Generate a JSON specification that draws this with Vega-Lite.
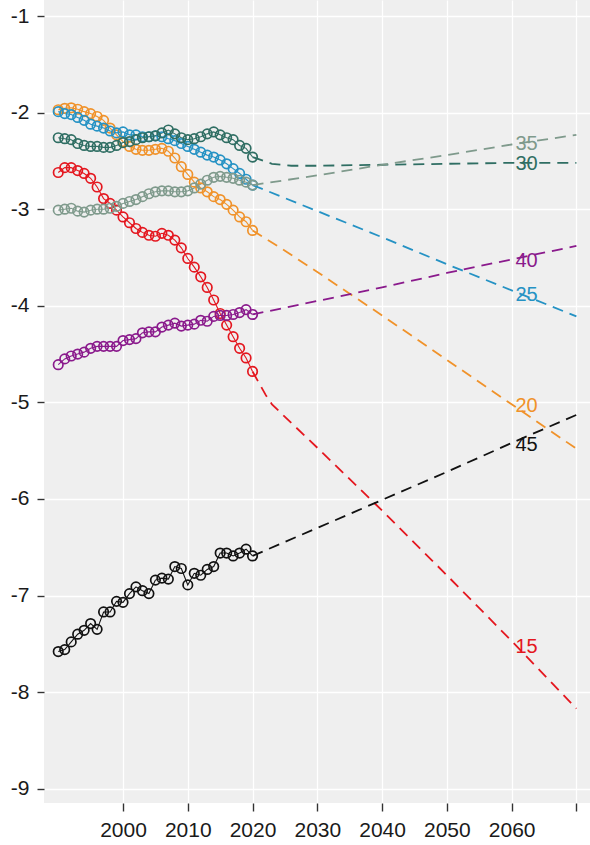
{
  "$schema": "https://vega.github.io/schema/vega-lite/v6.json",
  "width": 546,
  "height": 803,
  "autosize": {"type": "none"},
  "padding": {"left": 44, "top": 0, "right": 0, "bottom": 42},
  "background": "white",
  "config": {
    "view": {"fill": "#efefef", "stroke": null},
    "font": "Liberation Sans",
    "axis": {
      "domain": false,
      "grid": true,
      "gridColor": "#ffffff",
      "gridWidth": 1.3,
      "tickColor": "#333333",
      "tickWidth": 1.4,
      "labelColor": "#1a1a1a",
      "labelFont": "Liberation Sans",
      "title": null
    }
  },
  "datasets": {
    "observed": [
      {"series": "15", "year": 1990, "value": -2.62}, {"series": "15", "year": 1991, "value": -2.57}, {"series": "15", "year": 1992, "value": -2.57}, {"series": "15", "year": 1993, "value": -2.60}, {"series": "15", "year": 1994, "value": -2.63}, {"series": "15", "year": 1995, "value": -2.68}, {"series": "15", "year": 1996, "value": -2.77}, {"series": "15", "year": 1997, "value": -2.89}, {"series": "15", "year": 1998, "value": -2.94}, {"series": "15", "year": 1999, "value": -3.01}, {"series": "15", "year": 2000, "value": -3.08}, {"series": "15", "year": 2001, "value": -3.14}, {"series": "15", "year": 2002, "value": -3.20}, {"series": "15", "year": 2003, "value": -3.24}, {"series": "15", "year": 2004, "value": -3.27}, {"series": "15", "year": 2005, "value": -3.28}, {"series": "15", "year": 2006, "value": -3.25}, {"series": "15", "year": 2007, "value": -3.27}, {"series": "15", "year": 2008, "value": -3.32}, {"series": "15", "year": 2009, "value": -3.40}, {"series": "15", "year": 2010, "value": -3.51}, {"series": "15", "year": 2011, "value": -3.60}, {"series": "15", "year": 2012, "value": -3.70}, {"series": "15", "year": 2013, "value": -3.81}, {"series": "15", "year": 2014, "value": -3.94}, {"series": "15", "year": 2015, "value": -4.08}, {"series": "15", "year": 2016, "value": -4.20}, {"series": "15", "year": 2017, "value": -4.32}, {"series": "15", "year": 2018, "value": -4.44}, {"series": "15", "year": 2019, "value": -4.54}, {"series": "15", "year": 2020, "value": -4.68},

      {"series": "20", "year": 1990, "value": -1.97}, {"series": "20", "year": 1991, "value": -1.955}, {"series": "20", "year": 1992, "value": -1.95}, {"series": "20", "year": 1993, "value": -1.965}, {"series": "20", "year": 1994, "value": -1.99}, {"series": "20", "year": 1995, "value": -2.01}, {"series": "20", "year": 1996, "value": -2.04}, {"series": "20", "year": 1997, "value": -2.08}, {"series": "20", "year": 1998, "value": -2.16}, {"series": "20", "year": 1999, "value": -2.23}, {"series": "20", "year": 2000, "value": -2.30}, {"series": "20", "year": 2001, "value": -2.35}, {"series": "20", "year": 2002, "value": -2.38}, {"series": "20", "year": 2003, "value": -2.39}, {"series": "20", "year": 2004, "value": -2.39}, {"series": "20", "year": 2005, "value": -2.38}, {"series": "20", "year": 2006, "value": -2.37}, {"series": "20", "year": 2007, "value": -2.40}, {"series": "20", "year": 2008, "value": -2.47}, {"series": "20", "year": 2009, "value": -2.56}, {"series": "20", "year": 2010, "value": -2.64}, {"series": "20", "year": 2011, "value": -2.72}, {"series": "20", "year": 2012, "value": -2.78}, {"series": "20", "year": 2013, "value": -2.82}, {"series": "20", "year": 2014, "value": -2.87}, {"series": "20", "year": 2015, "value": -2.90}, {"series": "20", "year": 2016, "value": -2.95}, {"series": "20", "year": 2017, "value": -3.01}, {"series": "20", "year": 2018, "value": -3.08}, {"series": "20", "year": 2019, "value": -3.13}, {"series": "20", "year": 2020, "value": -3.22},

      {"series": "25", "year": 1990, "value": -1.99}, {"series": "25", "year": 1991, "value": -2.01}, {"series": "25", "year": 1992, "value": -2.02}, {"series": "25", "year": 1993, "value": -2.05}, {"series": "25", "year": 1994, "value": -2.08}, {"series": "25", "year": 1995, "value": -2.12}, {"series": "25", "year": 1996, "value": -2.14}, {"series": "25", "year": 1997, "value": -2.16}, {"series": "25", "year": 1998, "value": -2.19}, {"series": "25", "year": 1999, "value": -2.21}, {"series": "25", "year": 2000, "value": -2.20}, {"series": "25", "year": 2001, "value": -2.23}, {"series": "25", "year": 2002, "value": -2.23}, {"series": "25", "year": 2003, "value": -2.25}, {"series": "25", "year": 2004, "value": -2.25}, {"series": "25", "year": 2005, "value": -2.24}, {"series": "25", "year": 2006, "value": -2.25}, {"series": "25", "year": 2007, "value": -2.27}, {"series": "25", "year": 2008, "value": -2.29}, {"series": "25", "year": 2009, "value": -2.32}, {"series": "25", "year": 2010, "value": -2.35}, {"series": "25", "year": 2011, "value": -2.38}, {"series": "25", "year": 2012, "value": -2.41}, {"series": "25", "year": 2013, "value": -2.44}, {"series": "25", "year": 2014, "value": -2.46}, {"series": "25", "year": 2015, "value": -2.49}, {"series": "25", "year": 2016, "value": -2.53}, {"series": "25", "year": 2017, "value": -2.58}, {"series": "25", "year": 2018, "value": -2.63}, {"series": "25", "year": 2019, "value": -2.69}, {"series": "25", "year": 2020, "value": -2.75},

      {"series": "30", "year": 1990, "value": -2.26}, {"series": "30", "year": 1991, "value": -2.27}, {"series": "30", "year": 1992, "value": -2.28}, {"series": "30", "year": 1993, "value": -2.32}, {"series": "30", "year": 1994, "value": -2.34}, {"series": "30", "year": 1995, "value": -2.35}, {"series": "30", "year": 1996, "value": -2.35}, {"series": "30", "year": 1997, "value": -2.36}, {"series": "30", "year": 1998, "value": -2.36}, {"series": "30", "year": 1999, "value": -2.34}, {"series": "30", "year": 2000, "value": -2.31}, {"series": "30", "year": 2001, "value": -2.30}, {"series": "30", "year": 2002, "value": -2.28}, {"series": "30", "year": 2003, "value": -2.26}, {"series": "30", "year": 2004, "value": -2.25}, {"series": "30", "year": 2005, "value": -2.24}, {"series": "30", "year": 2006, "value": -2.21}, {"series": "30", "year": 2007, "value": -2.18}, {"series": "30", "year": 2008, "value": -2.22}, {"series": "30", "year": 2009, "value": -2.26}, {"series": "30", "year": 2010, "value": -2.28}, {"series": "30", "year": 2011, "value": -2.27}, {"series": "30", "year": 2012, "value": -2.25}, {"series": "30", "year": 2013, "value": -2.22}, {"series": "30", "year": 2014, "value": -2.20}, {"series": "30", "year": 2015, "value": -2.23}, {"series": "30", "year": 2016, "value": -2.26}, {"series": "30", "year": 2017, "value": -2.28}, {"series": "30", "year": 2018, "value": -2.34}, {"series": "30", "year": 2019, "value": -2.37}, {"series": "30", "year": 2020, "value": -2.46},

      {"series": "35", "year": 1990, "value": -3.01}, {"series": "35", "year": 1991, "value": -3.00}, {"series": "35", "year": 1992, "value": -2.99}, {"series": "35", "year": 1993, "value": -3.02}, {"series": "35", "year": 1994, "value": -3.03}, {"series": "35", "year": 1995, "value": -3.01}, {"series": "35", "year": 1996, "value": -3.00}, {"series": "35", "year": 1997, "value": -3.00}, {"series": "35", "year": 1998, "value": -2.99}, {"series": "35", "year": 1999, "value": -2.97}, {"series": "35", "year": 2000, "value": -2.94}, {"series": "35", "year": 2001, "value": -2.92}, {"series": "35", "year": 2002, "value": -2.90}, {"series": "35", "year": 2003, "value": -2.87}, {"series": "35", "year": 2004, "value": -2.84}, {"series": "35", "year": 2005, "value": -2.82}, {"series": "35", "year": 2006, "value": -2.81}, {"series": "35", "year": 2007, "value": -2.81}, {"series": "35", "year": 2008, "value": -2.82}, {"series": "35", "year": 2009, "value": -2.82}, {"series": "35", "year": 2010, "value": -2.81}, {"series": "35", "year": 2011, "value": -2.78}, {"series": "35", "year": 2012, "value": -2.74}, {"series": "35", "year": 2013, "value": -2.70}, {"series": "35", "year": 2014, "value": -2.67}, {"series": "35", "year": 2015, "value": -2.66}, {"series": "35", "year": 2016, "value": -2.67}, {"series": "35", "year": 2017, "value": -2.68}, {"series": "35", "year": 2018, "value": -2.70}, {"series": "35", "year": 2019, "value": -2.72}, {"series": "35", "year": 2020, "value": -2.75},

      {"series": "40", "year": 1990, "value": -4.61}, {"series": "40", "year": 1991, "value": -4.55}, {"series": "40", "year": 1992, "value": -4.52}, {"series": "40", "year": 1993, "value": -4.50}, {"series": "40", "year": 1994, "value": -4.48}, {"series": "40", "year": 1995, "value": -4.44}, {"series": "40", "year": 1996, "value": -4.42}, {"series": "40", "year": 1997, "value": -4.42}, {"series": "40", "year": 1998, "value": -4.42}, {"series": "40", "year": 1999, "value": -4.42}, {"series": "40", "year": 2000, "value": -4.36}, {"series": "40", "year": 2001, "value": -4.35}, {"series": "40", "year": 2002, "value": -4.34}, {"series": "40", "year": 2003, "value": -4.28}, {"series": "40", "year": 2004, "value": -4.27}, {"series": "40", "year": 2005, "value": -4.27}, {"series": "40", "year": 2006, "value": -4.22}, {"series": "40", "year": 2007, "value": -4.20}, {"series": "40", "year": 2008, "value": -4.18}, {"series": "40", "year": 2009, "value": -4.21}, {"series": "40", "year": 2010, "value": -4.20}, {"series": "40", "year": 2011, "value": -4.19}, {"series": "40", "year": 2012, "value": -4.15}, {"series": "40", "year": 2013, "value": -4.16}, {"series": "40", "year": 2014, "value": -4.11}, {"series": "40", "year": 2015, "value": -4.10}, {"series": "40", "year": 2016, "value": -4.10}, {"series": "40", "year": 2017, "value": -4.09}, {"series": "40", "year": 2018, "value": -4.07}, {"series": "40", "year": 2019, "value": -4.04}, {"series": "40", "year": 2020, "value": -4.09},

      {"series": "45", "year": 1990, "value": -7.58}, {"series": "45", "year": 1991, "value": -7.56}, {"series": "45", "year": 1992, "value": -7.48}, {"series": "45", "year": 1993, "value": -7.40}, {"series": "45", "year": 1994, "value": -7.36}, {"series": "45", "year": 1995, "value": -7.29}, {"series": "45", "year": 1996, "value": -7.35}, {"series": "45", "year": 1997, "value": -7.17}, {"series": "45", "year": 1998, "value": -7.17}, {"series": "45", "year": 1999, "value": -7.06}, {"series": "45", "year": 2000, "value": -7.07}, {"series": "45", "year": 2001, "value": -6.98}, {"series": "45", "year": 2002, "value": -6.91}, {"series": "45", "year": 2003, "value": -6.95}, {"series": "45", "year": 2004, "value": -6.98}, {"series": "45", "year": 2005, "value": -6.84}, {"series": "45", "year": 2006, "value": -6.82}, {"series": "45", "year": 2007, "value": -6.83}, {"series": "45", "year": 2008, "value": -6.70}, {"series": "45", "year": 2009, "value": -6.72}, {"series": "45", "year": 2010, "value": -6.89}, {"series": "45", "year": 2011, "value": -6.77}, {"series": "45", "year": 2012, "value": -6.79}, {"series": "45", "year": 2013, "value": -6.73}, {"series": "45", "year": 2014, "value": -6.70}, {"series": "45", "year": 2015, "value": -6.56}, {"series": "45", "year": 2016, "value": -6.56}, {"series": "45", "year": 2017, "value": -6.59}, {"series": "45", "year": 2018, "value": -6.56}, {"series": "45", "year": 2019, "value": -6.52}, {"series": "45", "year": 2020, "value": -6.59}
    ],
    "projected": [
      {"series": "15", "year": 2020, "value": -4.68}, {"series": "15", "year": 2021, "value": -4.80}, {"series": "15", "year": 2022, "value": -4.92}, {"series": "15", "year": 2023, "value": -5.02}, {"series": "15", "year": 2025, "value": -5.15}, {"series": "15", "year": 2030, "value": -5.47}, {"series": "15", "year": 2040, "value": -6.12}, {"series": "15", "year": 2050, "value": -6.79}, {"series": "15", "year": 2060, "value": -7.47}, {"series": "15", "year": 2070, "value": -8.17},
      {"series": "20", "year": 2020, "value": -3.22}, {"series": "20", "year": 2025, "value": -3.43}, {"series": "20", "year": 2030, "value": -3.65}, {"series": "20", "year": 2040, "value": -4.10}, {"series": "20", "year": 2050, "value": -4.56}, {"series": "20", "year": 2060, "value": -5.02}, {"series": "20", "year": 2070, "value": -5.48},
      {"series": "25", "year": 2020, "value": -2.75}, {"series": "25", "year": 2030, "value": -3.02}, {"series": "25", "year": 2040, "value": -3.29}, {"series": "25", "year": 2050, "value": -3.57}, {"series": "25", "year": 2060, "value": -3.84}, {"series": "25", "year": 2070, "value": -4.11},
      {"series": "30", "year": 2020, "value": -2.46}, {"series": "30", "year": 2023, "value": -2.53}, {"series": "30", "year": 2026, "value": -2.55}, {"series": "30", "year": 2030, "value": -2.55}, {"series": "30", "year": 2040, "value": -2.54}, {"series": "30", "year": 2050, "value": -2.53}, {"series": "30", "year": 2060, "value": -2.52}, {"series": "30", "year": 2070, "value": -2.52},
      {"series": "35", "year": 2020, "value": -2.75}, {"series": "35", "year": 2030, "value": -2.65}, {"series": "35", "year": 2040, "value": -2.54}, {"series": "35", "year": 2050, "value": -2.44}, {"series": "35", "year": 2060, "value": -2.33}, {"series": "35", "year": 2070, "value": -2.23},
      {"series": "40", "year": 2020, "value": -4.09}, {"series": "40", "year": 2030, "value": -3.95}, {"series": "40", "year": 2040, "value": -3.81}, {"series": "40", "year": 2050, "value": -3.66}, {"series": "40", "year": 2060, "value": -3.52}, {"series": "40", "year": 2070, "value": -3.38},
      {"series": "45", "year": 2020, "value": -6.59}, {"series": "45", "year": 2030, "value": -6.30}, {"series": "45", "year": 2040, "value": -6.01}, {"series": "45", "year": 2050, "value": -5.72}, {"series": "45", "year": 2060, "value": -5.42}, {"series": "45", "year": 2070, "value": -5.13}
    ],
    "labels": [
      {"series": "15", "year": 2062.3, "value": -7.53},
      {"series": "20", "year": 2062.3, "value": -5.04},
      {"series": "25", "year": 2062.3, "value": -3.89},
      {"series": "30", "year": 2062.3, "value": -2.53},
      {"series": "35", "year": 2062.3, "value": -2.33},
      {"series": "40", "year": 2062.3, "value": -3.54},
      {"series": "45", "year": 2062.3, "value": -5.44}
    ]
  },
  "encoding": {
    "x": {
      "field": "year",
      "type": "quantitative",
      "scale": {"domain": [1987.8, 2072.1], "nice": false, "zero": false},
      "axis": {
        "values": [2000, 2010, 2020, 2030, 2040, 2050, 2060, 2070],
        "labelExpr": "datum.value > 2065 ? '' : toString(datum.value)",
        "labelFontSize": 21,
        "tickSize": 8,
        "labelPadding": 8,
        "labelFlush": false,
        "labelOverlap": false
      }
    },
    "y": {
      "field": "value",
      "type": "quantitative",
      "scale": {"domain": [-9.148, -0.834], "nice": false, "zero": false},
      "axis": {
        "values": [-9, -8, -7, -6, -5, -4, -3, -2, -1],
        "labelExpr": "toString(datum.value)",
        "labelFontSize": 21,
        "tickSize": 7,
        "labelPadding": 8,
        "labelFlush": false,
        "labelOverlap": false
      }
    },
    "color": {
      "field": "series",
      "type": "nominal",
      "scale": {
        "domain": ["15", "20", "25", "30", "35", "40", "45"],
        "range": ["#e4171f", "#f0922a", "#2592c4", "#2f6e63", "#7f9a8c", "#8a1a8c", "#111111"]
      },
      "legend": null
    }
  },
  "layer": [
    {
      "data": {"name": "observed"},
      "mark": {"type": "line", "strokeWidth": 1.1},
      "encoding": {"detail": {"field": "series"}}
    },
    {
      "data": {"name": "observed"},
      "mark": {"type": "point", "shape": "circle", "filled": false, "size": 90, "strokeWidth": 1.7, "opacity": 1}
    },
    {
      "data": {"name": "projected"},
      "mark": {"type": "line", "strokeWidth": 1.8, "strokeDash": [11, 7]},
      "encoding": {"detail": {"field": "series"}}
    },
    {
      "data": {"name": "labels"},
      "mark": {"type": "text", "fontSize": 20, "align": "center", "baseline": "middle", "font": "Liberation Sans"},
      "encoding": {"text": {"field": "series"}}
    }
  ]
}
